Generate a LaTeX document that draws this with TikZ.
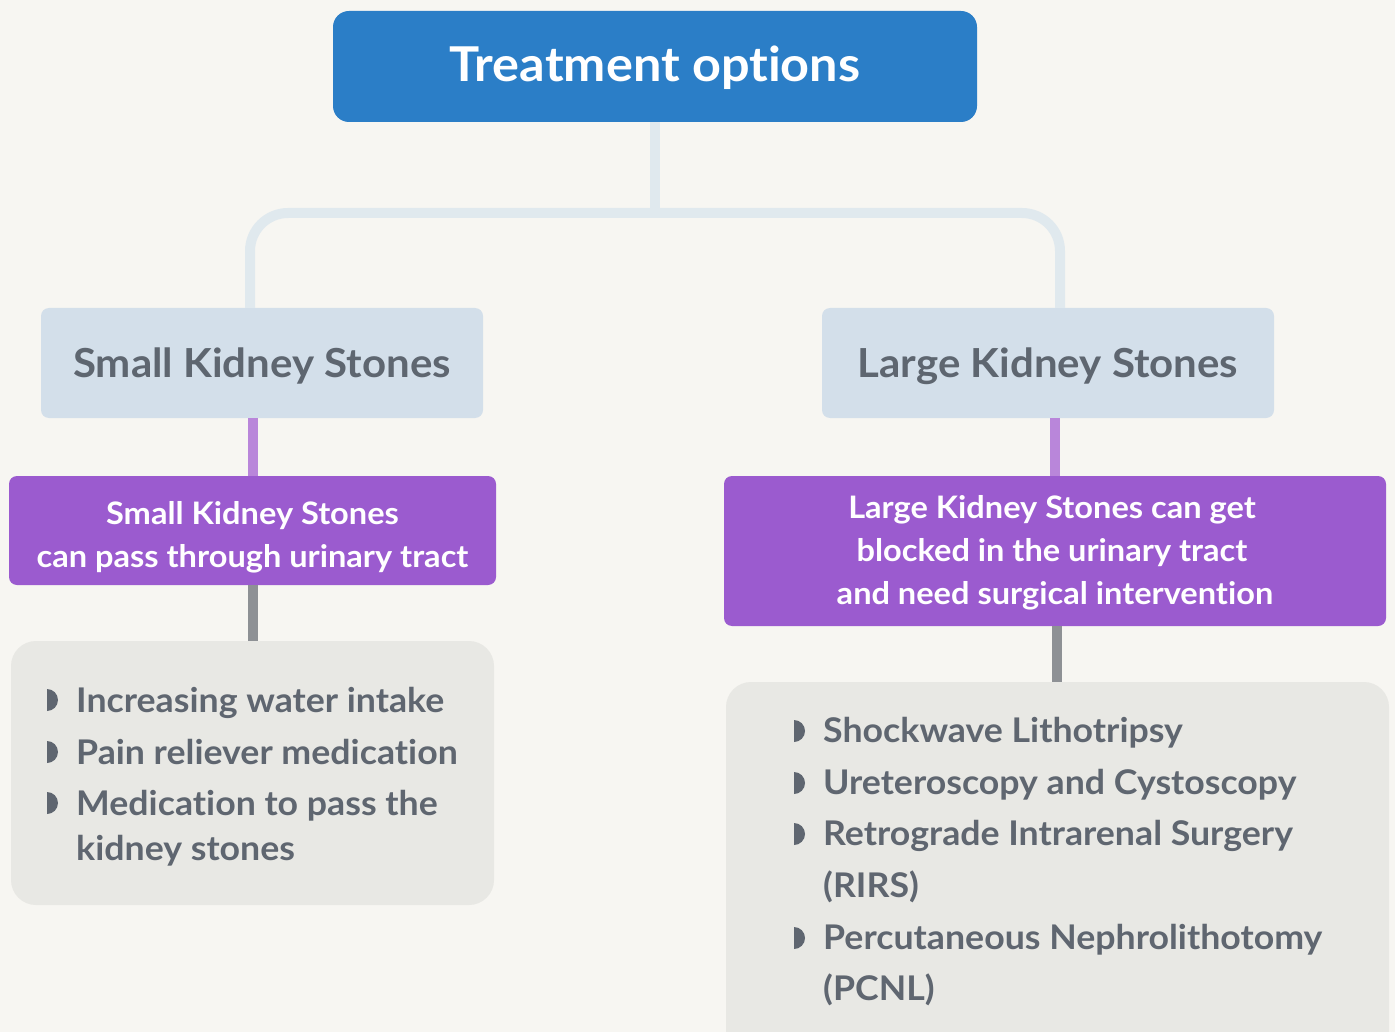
\documentclass[tikz,border=0pt]{standalone}
\usepackage{fontspec}
\setmainfont{Lato}[FakeStretch=1.05, Ligatures={NoCommon,NoDiscretionary}]
\usetikzlibrary{calc}
\definecolor{bg}{HTML}{F7F6F2}
\definecolor{titleblue}{HTML}{2B7EC7}
\definecolor{connlight}{HTML}{E0E9EE}
\definecolor{headfill}{HTML}{D3DFEA}
\definecolor{headtext}{HTML}{5E6670}
\definecolor{purp}{HTML}{9B5BCF}
\definecolor{lightpurp}{HTML}{B986DA}
\definecolor{grayconn}{HTML}{8E9195}
\definecolor{listfill}{HTML}{E8E8E4}
\definecolor{listtext}{HTML}{5F6670}
\begin{document}
\begin{tikzpicture}[x=1pt,y=1pt,
  boxbase/.style={rectangle, inner sep=0pt, draw=none},
  titlebox/.style={boxbase, fill=titleblue, rounded corners=16pt},
  headbox/.style={boxbase, fill=headfill, rounded corners=8pt},
  purpbox/.style={boxbase, fill=purp, rounded corners=8pt},
  listbox/.style={boxbase, fill=listfill, rounded corners=25pt},
  connA/.style={line width=10pt, draw=connlight, rounded corners=38pt},
  connB/.style={line width=10pt, draw=lightpurp},
  connC/.style={line width=10pt, draw=grayconn},
  titletxt/.style={inner sep=0pt, anchor=base, text=white, font=\bfseries\fontsize{48}{52}\selectfont},
  headtxt/.style={inner sep=0pt, anchor=base, text=headtext, font=\bfseries\fontsize{40}{46}\selectfont},
  purptxt/.style={inner sep=0pt, anchor=base, text=white, font=\bfseries\fontsize{31}{36}\selectfont},
  itemtxt/.style={inner sep=0pt, anchor=base west, text=listtext, font=\bfseries\fontsize{34}{40}\selectfont},
  bulletmark/.style={fill=listtext}
]
\useasboundingbox (0,0) rectangle (1395,-1032);
\fill[bg] (0,0) rectangle (1395,-1032);

\begin{scope}
\clip (0,0) rectangle (1395,-1032);
% boxes
\node[titlebox, minimum width=644pt, minimum height=111pt] (title) at (655,-66.5) {};
\node[headbox, minimum width=442pt, minimum height=110pt] (small) at (262,-363) {};
\node[headbox, minimum width=452pt, minimum height=110pt] (large) at (1048,-363) {};
\node[purpbox, minimum width=487pt, minimum height=109pt] (psmall) at (252.5,-530.5) {};
\node[purpbox, minimum width=662pt, minimum height=150pt] (plarge) at (1055,-551) {};
\node[listbox, minimum width=483pt, minimum height=264pt] (lsmall) at (252.5,-773) {};
\node[listbox, minimum width=663pt, minimum height=400pt] (llarge) at (1057.5,-882) {};

% connectors
\coordinate (junction) at (655,-213);
\coordinate (smalltop) at (250,-308);
\coordinate (largetop) at (1060,-308);
\coordinate (plargefoot) at (1057,-626);
\draw[connA] (title.south) -- (junction);
\draw[connA] (smalltop) |- (junction) -| (largetop);
\draw[connB] (psmall.north) -- (psmall.north |- small.south);
\draw[connB] (plarge.north) -- (plarge.north |- large.south);
\draw[connC] (psmall.south) -- (psmall.south |- lsmall.north);
\draw[connC] (plargefoot) -- (plargefoot |- llarge.north);

% texts
\node[titletxt] (titlet) at (655,-82) {Treatment options};
\node[headtxt] (smallt) at (262,-377) {Small Kidney Stones};
\node[headtxt] (larget) at (1048,-377) {Large Kidney Stones};

\node[purptxt] (ps1) at (252.5,-524) {Small Kidney Stones};
\node[purptxt] (ps2) at (252.5,-567) {can pass through urinary tract};
\node[purptxt] (pl1) at (1052,-518) {Large Kidney Stones can get};
\node[purptxt] (pl2) at (1052,-561) {blocked in the urinary tract};
\node[purptxt] (pl3) at (1055,-604) {and need surgical intervention};

\node[itemtxt] (s1) at (76,-712) {Increasing water intake};
\node[itemtxt] (s2) at (76,-764) {Pain reliever medication};
\node[itemtxt] (s3) at (76,-815) {Medication to pass the};
\node[itemtxt] (s3b) at (76,-860) {kidney stones};

\node[itemtxt] (l1) at (823,-742) {Shockwave Lithotripsy};
\node[itemtxt] (l2) at (823,-794) {Ureteroscopy and Cystoscopy};
\node[itemtxt] (l3) at (823,-845) {Retrograde Intrarenal Surgery};
\node[itemtxt] (l3b) at (823,-897) {(RIRS)};
\node[itemtxt] (l4) at (823,-949) {Percutaneous Nephrolithotomy};
\node[itemtxt] (l4b) at (823,-1000) {(PCNL)};

% bullets
\foreach \bx/\by in {47/-700, 47/-752, 47/-803, 794/-731, 794/-783, 794/-834, 794/-938}{
  \fill[bulletmark] (\bx,\by+11) arc (90:-90:11) -- cycle;
}
\end{scope}
\end{tikzpicture}
\end{document}
